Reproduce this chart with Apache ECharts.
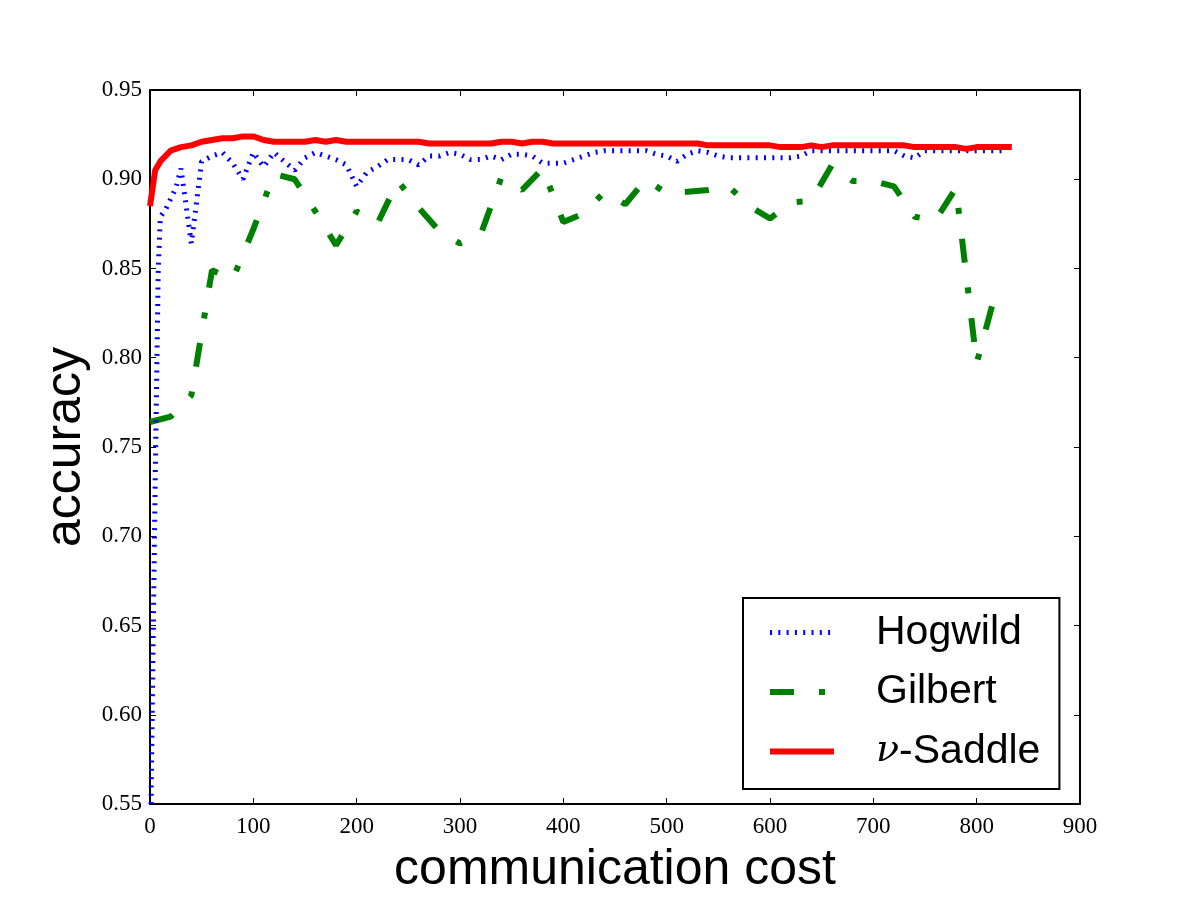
<!DOCTYPE html>
<html>
<head>
<meta charset="utf-8">
<title>accuracy vs communication cost</title>
<script src="https://cdn.jsdelivr.net/npm/echarts@6/dist/echarts.min.js"></script>
<style>
  html, body { margin: 0; padding: 0; background: #fff; }
  #chart { width: 1200px; height: 900px; }
</style>
</head>
<body>
<div id="chart"></div>
<script>
// values
const hogwildX = [1, 5, 8, 10, 15, 20, 25, 30, 40, 50, 60, 70, 80, 90, 100, 110, 120, 130, 140, 150, 160, 170, 180, 190, 200,
  210, 220, 230, 240, 250, 260, 270, 280, 290, 300, 310, 320, 330, 340, 350, 360, 370, 380, 390, 400,
  410, 420, 430, 440, 450, 460, 470, 480, 490, 500, 510, 520, 530, 540, 550, 560, 570, 580, 590, 600,
  610, 620, 630, 640, 650, 660, 670, 680, 690, 700, 710, 720, 730, 740, 750, 760, 770, 780, 790, 800,
  810, 820, 830]
const hogwildY = [0.55, 0.73, 0.85, 0.879, 0.883, 0.889, 0.895, 0.906, 0.864, 0.910, 0.913, 0.915, 0.909, 0.900, 0.915, 0.907, 0.915, 0.910, 0.905, 0.912, 0.915, 0.913, 0.911, 0.908, 0.896,
  0.904, 0.907, 0.911, 0.911, 0.911, 0.908, 0.913, 0.913, 0.915, 0.914, 0.911, 0.911, 0.913, 0.911, 0.914, 0.914, 0.913, 0.909, 0.909, 0.909,
  0.911, 0.913, 0.915, 0.916, 0.916, 0.916, 0.916, 0.916, 0.914, 0.913, 0.910, 0.914, 0.916, 0.915, 0.913, 0.912, 0.912, 0.912, 0.912, 0.912,
  0.912, 0.912, 0.913, 0.916, 0.916, 0.916, 0.916, 0.916, 0.916, 0.916, 0.916, 0.916, 0.913, 0.912, 0.916, 0.916, 0.916, 0.916, 0.916, 0.916,
  0.916, 0.916, 0.916]

const gilbertX = [0, 20, 40, 60, 80, 100, 120, 140, 160, 180, 200, 220, 240, 260, 280, 300, 320, 340, 360, 380, 400,
  420, 440, 460, 480, 500, 520, 540, 560, 580, 600, 620, 640, 660, 680, 700, 720, 740, 760, 780, 800, 820]
const gilbertY = [0.764, 0.767, 0.779, 0.849, 0.844, 0.872, 0.903, 0.900, 0.882, 0.863, 0.882, 0.875, 0.899, 0.884, 0.871, 0.864, 0.869, 0.901, 0.894, 0.906, 0.876,
  0.881, 0.893, 0.886, 0.900, 0.892, 0.893, 0.894, 0.896, 0.885, 0.878, 0.887, 0.888, 0.908, 0.899, 0.899, 0.896, 0.879, 0.877, 0.895, 0.797, 0.840]

const saddleX = [0, 5, 10, 20, 30, 40, 50, 60, 70, 80, 90, 100, 110, 120, 130, 140, 150, 160, 170, 180, 190, 200,
  210, 220, 230, 240, 250, 260, 270, 280, 290, 300, 310, 320, 330, 340, 350, 360, 370, 380, 390, 400,
  410, 420, 430, 440, 450, 460, 470, 480, 490, 500, 510, 520, 530, 540, 550, 560, 570, 580, 590, 600,
  610, 620, 630, 640, 650, 660, 670, 680, 690, 700, 710, 720, 730, 740, 750, 760, 770, 780, 790, 800,
  810, 820, 834]
const saddleY = [0.885, 0.905, 0.910, 0.916, 0.918, 0.919, 0.921, 0.922, 0.923, 0.923, 0.924, 0.924, 0.922, 0.921, 0.921, 0.921, 0.921, 0.922, 0.921, 0.922, 0.921, 0.921,
  0.921, 0.921, 0.921, 0.921, 0.921, 0.921, 0.920, 0.920, 0.920, 0.920, 0.920, 0.920, 0.920, 0.921, 0.921, 0.920, 0.921, 0.921, 0.920, 0.920,
  0.920, 0.920, 0.920, 0.920, 0.920, 0.920, 0.920, 0.920, 0.920, 0.920, 0.920, 0.920, 0.920, 0.919, 0.919, 0.919, 0.919, 0.919, 0.919, 0.919,
  0.918, 0.918, 0.918, 0.919, 0.918, 0.919, 0.919, 0.919, 0.919, 0.919, 0.919, 0.919, 0.919, 0.918, 0.918, 0.918, 0.918, 0.918, 0.917, 0.918,
  0.918, 0.918, 0.918]

const zip = (xs, ys) => xs.map((x, i) => [x, ys[i]])

const tickFont = { fontFamily: 'Liberation Serif', fontSize: 23, color: '#000' }
const sans = 'Liberation Sans'

const xBase = {
  type: 'value', min: 0, max: 900, interval: 100,
  splitLine: { show: false },
  axisLine: { show: true, onZero: false, lineStyle: { color: '#000', width: 2 } },
  axisTick: { show: true, inside: true, length: 6, lineStyle: { color: '#000', width: 1 } }
}
const yBase = {
  type: 'value', min: 0.55, max: 0.95, interval: 0.05,
  splitLine: { show: false },
  axisLine: { show: true, onZero: false, lineStyle: { color: '#000', width: 2 } },
  axisTick: { show: true, inside: true, length: 6, lineStyle: { color: '#000', width: 1 } }
}

const chart = echarts.init(document.getElementById('chart'), null, { renderer: 'canvas' })
chart.setOption({
  animation: false,
  backgroundColor: '#fff',
  grid: { left: 150, right: 120, top: 90, bottom: 90 },
  xAxis: [Object.assign({}, xBase, {
    position: 'bottom',
    name: 'communication cost',
    nameLocation: 'middle',
    nameGap: 41,
    nameTextStyle: { fontFamily: sans, fontSize: 50, color: '#000' },
    axisLabel: Object.assign({ margin: 11 }, tickFont)
  }), Object.assign({}, xBase, {
    position: 'top',
    axisLabel: { show: false }
  })],
  yAxis: [Object.assign({}, yBase, {
    position: 'left',
    name: 'accuracy',
    nameLocation: 'middle',
    nameGap: 56,
    nameRotate: 90,
    nameTextStyle: { fontFamily: sans, fontSize: 50, color: '#000' },
    axisLabel: Object.assign({ margin: 8, formatter: v => v.toFixed(2) }, tickFont)
  }), Object.assign({}, yBase, {
    position: 'right',
    axisLabel: { show: false }
  })],
  legend: {
    orient: 'vertical',
    left: 743,
    top: 598,
    padding: [14, 19, 17, 24],
    itemGap: 18.5,
    itemWidth: 64,
    itemHeight: 14,
    borderColor: '#000',
    borderWidth: 2,
    backgroundColor: '#fff',
    selectedMode: false,
    itemStyle: { opacity: 0 },
    lineStyle: { width: 'inherit' },
    formatter: name => name === 'ν-Saddle' ? '{nu|ν}-Saddle' : name,
    textStyle: {
      fontFamily: sans, fontSize: 41, lineHeight: 41, color: '#000',
      padding: [0, 0, 0, 37],
      rich: {
        nu: { fontFamily: 'DejaVu Serif', fontStyle: 'italic', fontSize: 38, lineHeight: 41, color: '#000' }
      }
    },
    data: ['Hogwild', 'Gilbert', 'ν-Saddle']
  },
  series: [{
    name: 'Hogwild',
    type: 'line',
    data: zip(hogwildX, hogwildY),
    showSymbol: false,
    symbol: 'none',
    z: 3,
    lineStyle: { color: '#0000ff', width: 5, type: [2, 6.3], cap: 'butt' },
    itemStyle: { color: '#0000ff' }
  }, {
    name: 'Gilbert',
    type: 'line',
    data: zip(gilbertX, gilbertY),
    showSymbol: false,
    symbol: 'none',
    z: 2,
    lineStyle: { color: '#008000', width: 6, type: [24, 25, 6, 25], cap: 'butt' },
    itemStyle: { color: '#008000' }
  }, {
    name: 'ν-Saddle',
    type: 'line',
    data: zip(saddleX, saddleY),
    showSymbol: false,
    symbol: 'none',
    z: 4,
    lineStyle: { color: '#ff0000', width: 6 },
    itemStyle: { color: '#ff0000' }
  }]
})
</script>
</body>
</html>
